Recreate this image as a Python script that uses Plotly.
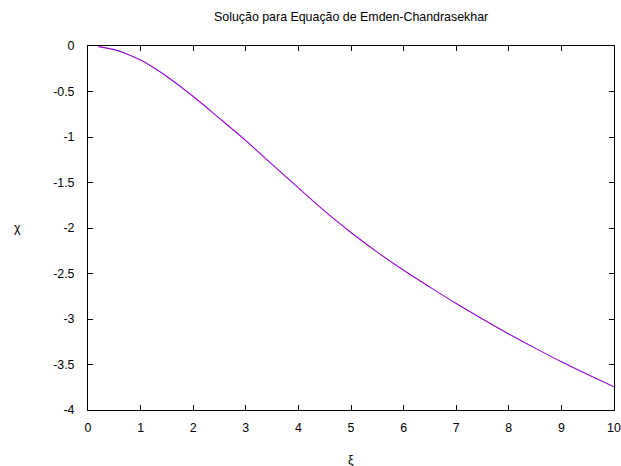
import plotly.graph_objects as go

# Solução numérica (ξ, χ) da equação de Emden-Chandrasekhar
xi = [0.2, 0.5, 0.75, 1.0, 1.25, 1.5, 2.0, 2.5, 3.0, 3.5, 4.0, 4.5, 5.0,
      5.5, 6.0, 6.5, 7.0, 7.5, 8.0, 8.5, 9.0, 9.5, 10.0]
chi = [-0.007, -0.04, -0.09, -0.155, -0.24, -0.335, -0.555, -0.795, -1.04, -1.30, -1.56,
       -1.815, -2.05, -2.265, -2.465, -2.65, -2.83, -3.0, -3.165, -3.32, -3.47, -3.61, -3.745]

x_ticks = list(range(0, 11))
y_ticks = [0, -0.5, -1, -1.5, -2, -2.5, -3, -3.5, -4]
y_tick_text = ["0", "-0.5", "-1", "-1.5", "-2", "-2.5", "-3", "-3.5", "-4"]

font = dict(family="Liberation Sans, Arial, sans-serif", size=12.4, color="#000000")

fig = go.Figure()
fig.add_trace(go.Scatter(
    x=xi, y=chi, mode="lines", line=dict(color="#9400D3", width=1.1, shape="spline", smoothing=0.8),
    showlegend=False,
))

axis_common = dict(
    showgrid=False, zeroline=False, showline=True, linecolor="#000000", linewidth=1,
    mirror="ticks", ticks="inside", ticklen=5, tickcolor="#000000", tickwidth=1,
    tickfont=font, automargin=False,
)
fig.update_xaxes(range=[0, 10], tickvals=x_ticks, **axis_common, ticklabelstandoff=6)
fig.update_yaxes(range=[-4, 0], tickvals=y_ticks, ticktext=y_tick_text,
                 **axis_common, ticklabelstandoff=10)

fig.update_layout(
    width=621, height=466,
    margin=dict(l=88, r=7, t=46, b=56),
    paper_bgcolor="#ffffff", plot_bgcolor="#ffffff",
    font=font,
    annotations=[
        dict(text="Solução para Equação de Emden-Chandrasekhar", x=0.5, y=1,
             xref="paper", yref="paper", yshift=29, showarrow=False,
             xanchor="center", yanchor="middle", font=font),
        dict(text="ξ", x=0.5, y=0, xref="paper", yref="paper", yshift=-50,
             showarrow=False, xanchor="center", yanchor="middle", font=font),
        dict(text="χ", x=0, y=0.5, xref="paper", yref="paper", xshift=-71,
             showarrow=False, xanchor="center", yanchor="middle", font=font),
    ],
)

fig.write_html("out.html")
